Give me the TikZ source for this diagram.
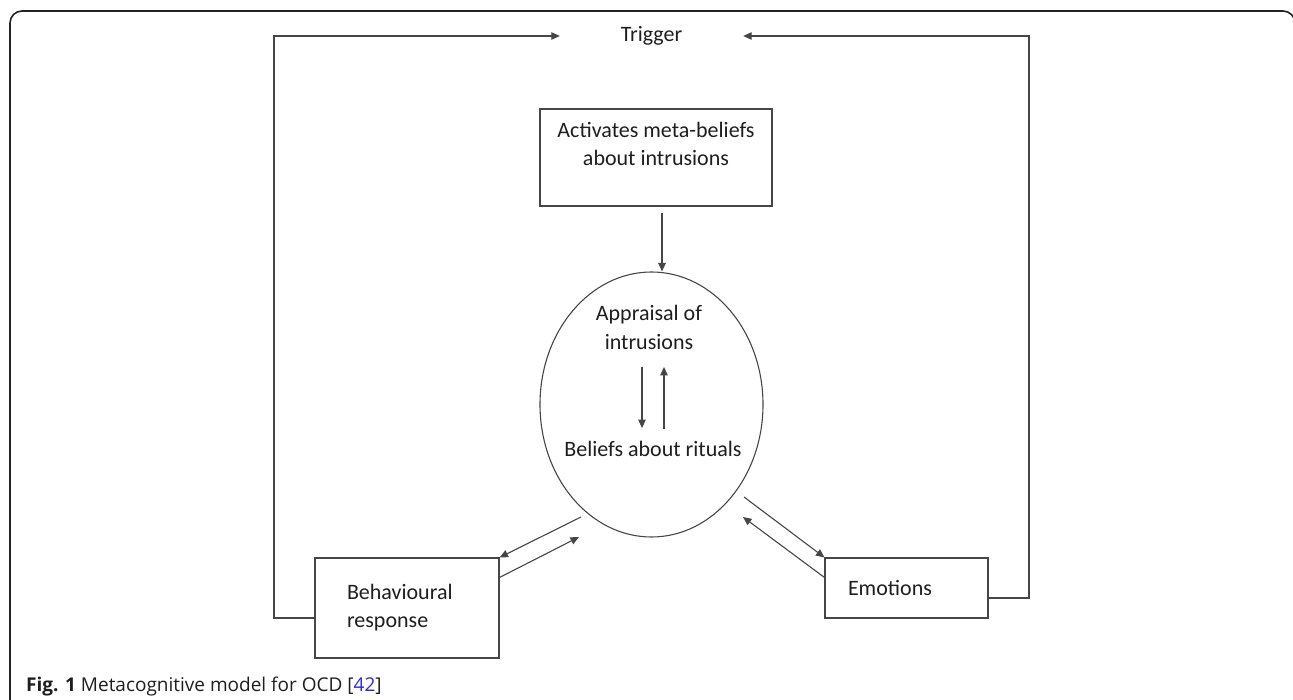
\documentclass[tikz,border=0pt]{standalone}
\usepackage{fontspec}
\setmainfont{Carlito}
\newfontfamily\capfont{Open Sans}
\usetikzlibrary{arrows.meta,calc,shapes.geometric}
\definecolor{linegray}{RGB}{70,70,70}
\definecolor{textdark}{RGB}{30,30,30}
\definecolor{framegray}{RGB}{35,35,35}
\definecolor{refblue}{RGB}{40,40,230}
\tikzset{
  link/.style={-{Triangle[length=8.5pt,width=7.5pt]}, line width=1.1pt, draw=linegray},
  box/.style={rectangle, draw=linegray, line width=1.1pt, inner sep=0pt, text=textdark, font=\fontsize{22}{28}\selectfont},
  oval/.style={ellipse, draw=linegray, line width=1.1pt, minimum width=223pt, minimum height=265pt},
  label/.style={inner sep=0pt, align=center, text=textdark, font=\fontsize{22}{29}\selectfont},
  caption/.style={inner sep=0pt, anchor=west, text=textdark, font=\capfont\fontsize{19}{23}\selectfont}
}

\begin{document}
\begin{tikzpicture}[x=1pt, y=-1pt]
  \useasboundingbox (0,0) rectangle (1293,700);
  \draw[line width=1.6pt, draw=framegray, rounded corners=12pt] (10,710) -- (10,11) -- (1295,11) -- (1295,710);

  % nodes
  \node[label, minimum width=183pt] (trig) at (651.5,36) {Trigger};
  \node[box, minimum width=232pt, minimum height=97pt, align=center] (act) at (656,157.5) {Activates meta-beliefs\\about intrusions\\\mbox{}};
  \node[oval] (ell) at (651.5,404.5) {};
  \node[label] (appr) at (649,327.5) {Appraisal of\\intrusions};
  \node[label] (ritual) at (653,449) {Beliefs about rituals};
  \node[box, minimum width=184pt, minimum height=100pt, text width=120pt, align=left] (beh) at (407,608) {Behavioural\\response};
  \node[box, minimum width=163pt, minimum height=60pt, text width=117pt, align=left] (emo) at (906.5,588) {Emotions};

  \coordinate (lcorner) at (274,36);
  \coordinate (rcorner) at (1029,36);
  \coordinate (ellbl) at (581,517);
  \coordinate (ellbl2) at (579,537);
  \coordinate (ellbr) at (744,497);
  \coordinate (ellbr2) at (743,517);

  % connectors
  \draw[link] ([yshift=-10pt]beh.west) -| (lcorner) -- (trig.west);
  \draw[link] ([yshift=-10pt]emo.east) -| (rcorner) -- (trig.east);
  \draw[link] ([xshift=6pt,yshift=-6pt]act.south) -- ([xshift=6pt]act.south |- ell.north);
  \draw[link] ([xshift=-7pt,yshift=-17pt]appr.south) -- ([xshift=-11pt,yshift=13pt]ritual.north);
  \draw[link] ([xshift=11pt,yshift=12pt]ritual.north) -- ([xshift=15pt,yshift=-17pt]appr.south);
  \draw[link] (ellbl) -- (beh.north east);
  \draw[link] ([yshift=-20pt]beh.north east) -- (ellbl2);
  \draw[link] (ellbr) -- (emo.north west);
  \draw[link] ([yshift=-20pt]emo.north west) -- (ellbr2);

  \node[caption] (cap) at (26,687) {\textbf{Fig. 1} Metacognitive model for OCD [\textcolor{refblue}{42}]};
\end{tikzpicture}
\end{document}
